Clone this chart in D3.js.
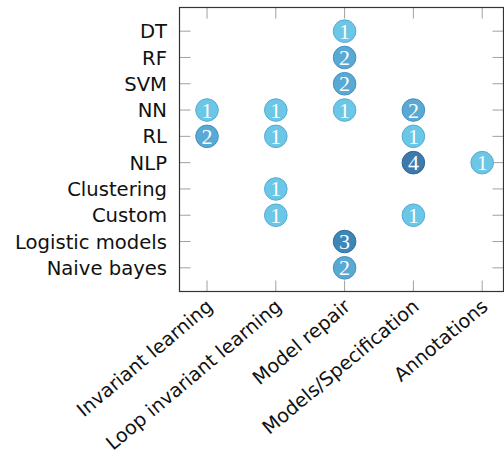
<!DOCTYPE html>
<html><head><meta charset="utf-8">
<script src="https://cdn.jsdelivr.net/npm/d3@7"></script>
<style>body{margin:0;background:#fff}svg{display:block}</style>
</head><body>
<script>
const categoriesX = ["Invariant learning","Loop invariant learning","Model repair","Models/Specification","Annotations"];
const categoriesY = ["DT","RF","SVM","NN","RL","NLP","Clustering","Custom","Logistic models","Naive bayes"];
const pointX = ["Model repair","Model repair","Model repair","Model repair","Model repair","Model repair",
  "Invariant learning","Invariant learning",
  "Loop invariant learning","Loop invariant learning","Loop invariant learning","Loop invariant learning",
  "Models/Specification","Models/Specification","Models/Specification","Models/Specification",
  "Annotations"];
const pointY = ["DT","RF","SVM","NN","Logistic models","Naive bayes",
  "NN","RL",
  "NN","RL","Clustering","Custom",
  "NN","RL","NLP","Custom",
  "NLP"];
const pointCount = [1,2,2,1,3,2, 1,2, 1,1,1,1, 2,1,4,1, 1];

const W=504,H=457;
const mL=179.5,mR=503.5,mT=7.5,mB=291.5;
const svg=d3.select("body").append("svg").attr("width",W).attr("height",H);

const x=d3.scaleLinear().domain([-0.4,4.31]).range([mL,mR]);
const y=d3.scalePoint().domain(categoriesY).range([mT,mB]).padding(0.9);
const xi=c=>x(categoriesX.indexOf(c));

const fill=d3.scaleOrdinal().domain([1,2,3,4]).range(["#6cc6e6","#58a9d4","#3c87b8","#3e7aac"]);
const stroke=d3.scaleOrdinal().domain([1,2,3,4]).range(["#55acd3","#4590bf","#2f6f9e","#2f6595"]);

const tickCol="#a0a0a0", tl=11;
const g=svg.append("g");
categoriesX.forEach((c,i)=>{
  g.append("line").attr("x1",x(i)).attr("x2",x(i)).attr("y1",mT).attr("y2",mT+tl).attr("stroke",tickCol);
  g.append("line").attr("x1",x(i)).attr("x2",x(i)).attr("y1",mB).attr("y2",mB-tl).attr("stroke",tickCol);
});
categoriesY.forEach(c=>{
  g.append("line").attr("x1",mL).attr("x2",mL+tl).attr("y1",y(c)).attr("y2",y(c)).attr("stroke",tickCol);
  g.append("line").attr("x1",mR).attr("x2",mR-tl).attr("y1",y(c)).attr("y2",y(c)).attr("stroke",tickCol);
});
g.append("rect").attr("x",mL).attr("y",mT).attr("width",mR-mL).attr("height",mB-mT)
  .attr("fill","none").attr("stroke","#333").attr("stroke-width",1.2);

const font="DejaVu Sans", fs=19.6;
svg.append("g").selectAll("text").data(categoriesY).join("text")
  .attr("x",mL-12.5).attr("y",d=>y(d)).attr("dy","0.36em")
  .attr("text-anchor","end").attr("font-family",font).attr("font-size",fs).attr("fill","#111").text(d=>d);
svg.append("g").selectAll("text").data(categoriesX).join("text")
  .attr("transform",(d,i)=>`translate(${x(i)+7},${mB+17}) rotate(-40)`)
  .attr("text-anchor","end").attr("font-family",font).attr("font-size",19.2).attr("fill","#111").text(d=>d);

const pts=pointCount.map((v,i)=>({x:pointX[i],y:pointY[i],v}));
const pg=svg.append("g").selectAll("g").data(pts).join("g")
  .attr("transform",d=>`translate(${xi(d.x)},${y(d.y)})`);
pg.append("circle").attr("r",11.3).attr("fill",d=>fill(d.v)).attr("stroke",d=>stroke(d.v)).attr("stroke-width",1);
pg.append("text").attr("text-anchor","middle").attr("dy","0.34em")
  .attr("font-family","Liberation Serif").attr("font-size",22).attr("fill","#fff").text(d=>d.v);
</script>
</body></html>
